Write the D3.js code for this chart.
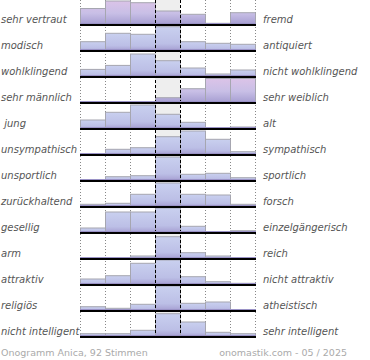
<!DOCTYPE html>
<html><head><meta charset="utf-8">
<script src="https://cdn.jsdelivr.net/npm/d3@7"></script>
<style>html,body{margin:0;padding:0;background:#fff;}</style>
</head><body>
<svg id="c" width="370" height="360"></svg>
<script>
const leftLabels = ["sehr vertraut","modisch","wohlklingend","sehr männlich"," jung","unsympathisch","unsportlich","zurückhaltend","gesellig","arm","attraktiv","religiös","nicht intelligent"];
const rightLabels = ["fremd","antiquiert","nicht wohlklingend","sehr weiblich","alt","sympathisch","sportlich","forsch","einzelgängerisch","reich","nicht attraktiv","atheistisch","sehr intelligent"];
const v1 = [16.5,24,22.3,14,10.7,1.7,12.3];
const v2 = [9.3,17.7,16.7,24.3,9.3,7.7,6.7];
const v3 = [7.6,11.6,23,16.3,9,3,7];
const v4 = [0,0,0,5.3,14.3,24.5,24.5];
const v5 = [9,16.7,24,14.7,6.7,1.3,2];
const v6 = [0,5.7,7.3,18.3,24,15.7,3.3];
const v7 = [0,4.3,5.3,24,6.7,7.7,3.3];
const v8 = [2.7,3.7,12.7,24,12.7,12,2.7];
const v9 = [5,21,21,25,6.7,0,2.3];
const v10 = [0,0,3,22.3,6.3,3,0];
const v11 = [6,9.3,21.7,25,8.3,3.3,1.7];
const v12 = [4.3,2.7,6.7,25,7.7,9,0];
const v13 = [3.3,3.3,6.7,23.3,15,4.7,3.3];
const values = [v1,v2,v3,v4,v5,v6,v7,v8,v9,v10,v11,v12,v13];
const footerLeft = "Onogramm Anica, 92 Stimmen";
const footerRight = "onomastik.com - 05 / 2025";
const pinkRows = [0,3];

const svg = d3.select("#c");
const defs = svg.append("defs");
const gb = defs.append("linearGradient").attr("id","gBlue").attr("x1",0).attr("y1",0).attr("x2",0).attr("y2",1).attr("gradientUnits","objectBoundingBox");
gb.append("stop").attr("offset","0%").attr("stop-color","#c9d0ef");
gb.append("stop").attr("offset","70%").attr("stop-color","#bcbfe6");
gb.append("stop").attr("offset","100%").attr("stop-color","#a49cd0");

const rowsIdx = d3.range(values.length);
const cols = d3.range(7);
const x = d3.scaleBand().domain(cols).range([80,255]);
const row = d3.scaleBand().domain(rowsIdx).range([-1,337]);
const h = d3.scaleLinear().domain([0,26]).range([0,row.bandwidth()]);

// pink gradients in user space per row
pinkRows.forEach(r => {
  const top = row(r), bot = row(r)+row.bandwidth();
  const g = defs.append("linearGradient").attr("id","gPink"+r).attr("gradientUnits","userSpaceOnUse")
    .attr("x1",0).attr("x2",0).attr("y1",top).attr("y2",bot);
  g.append("stop").attr("offset","0%").attr("stop-color","#dec4e8");
  g.append("stop").attr("offset","55%").attr("stop-color","#c8bfe6");
  g.append("stop").attr("offset","100%").attr("stop-color","#a49cd0");
});

// middle column background
svg.append("rect").attr("x",x(3)).attr("y",0).attr("width",x.bandwidth()).attr("height",row(12)+row.bandwidth()).attr("fill","#eeeeee");

// dotted grid lines
const dotted = [0,1,2,5,6];
svg.selectAll("line.dot").data(dotted).join("line")
  .attr("x1",d=>x(d)+0.5).attr("x2",d=>x(d)+0.5).attr("y1",0).attr("y2",338)
  .attr("stroke","#888").attr("stroke-dasharray","1,2");
svg.append("line").attr("x1",255.5).attr("x2",255.5).attr("y1",0).attr("y2",338)
  .attr("stroke","#888").attr("stroke-dasharray","1,2");

// bars
const g = svg.append("g");
rowsIdx.forEach(r => {
  const base = row(r)+row.bandwidth();
  const fill = pinkRows.includes(r) ? "url(#gPink"+r+")" : "url(#gBlue)";
  g.selectAll("rect.b"+r).data(values[r]).join("rect")
    .attr("x",(d,i)=>x(i)+0.5).attr("width",x.bandwidth())
    .attr("y",d=>base-h(d)).attr("height",d=>h(d))
    .attr("fill",fill).attr("stroke",d=>d>0?"#a6a6b0":"none").attr("stroke-width",1);
});

// dashed middle lines
[3,4].forEach(c=>{
  svg.append("line").attr("x1",x(c)+0.5).attr("x2",x(c)+0.5).attr("y1",0).attr("y2",338)
    .attr("stroke","#000").attr("stroke-dasharray","3,2");
});

// baselines
rowsIdx.forEach(r=>{
  const base = row(r)+row.bandwidth();
  svg.append("line").attr("x1",80).attr("x2",256).attr("y1",base-1.5).attr("y2",base-1.5)
    .attr("stroke","#9a92c6").attr("stroke-width",1);
  svg.append("line").attr("x1",80).attr("x2",256).attr("y1",base).attr("y2",base)
    .attr("stroke","#000").attr("stroke-width",2);
});

// labels
const font = "DejaVu Sans, Verdana, sans-serif";
svg.selectAll("text.l").data(leftLabels).join("text")
  .attr("x",1).attr("y",(d,i)=>row(i)+row.bandwidth()-2)
  .attr("font-family",font).attr("font-size",10).attr("font-style","italic").attr("fill","#555")
  .attr("xml:space","preserve").style("white-space","pre").text(d=>d);
svg.selectAll("text.r").data(rightLabels).join("text")
  .attr("x",263).attr("y",(d,i)=>row(i)+row.bandwidth()-2)
  .attr("font-family",font).attr("font-size",10).attr("font-style","italic").attr("fill","#555")
  .text(d=>d);

svg.append("text").attr("x",1).attr("y",356).attr("font-family",font).attr("font-size",9.5)
  .attr("fill","#aaa").text(footerLeft);
svg.append("text").attr("x",347).attr("y",356).attr("text-anchor","end").attr("font-family",font).attr("font-size",9.5)
  .attr("fill","#aaa").text(footerRight);
</script>
</body></html>
